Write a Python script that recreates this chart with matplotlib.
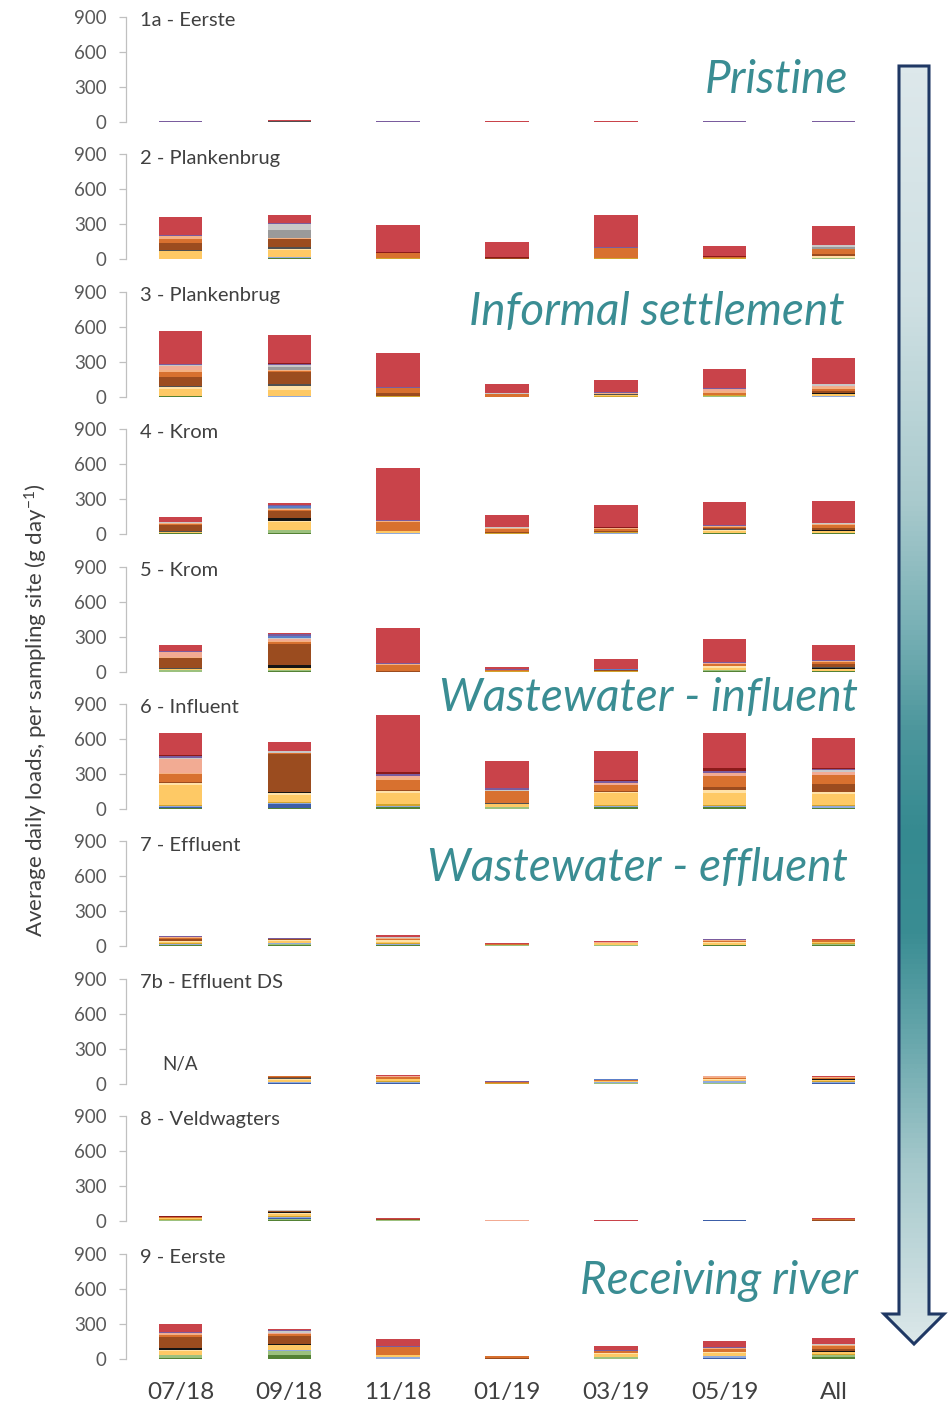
import numpy as np
import matplotlib
matplotlib.use("Agg")
import matplotlib.pyplot as plt
from matplotlib.patches import Polygon
from matplotlib.colors import LinearSegmentedColormap

plt.rcParams["font.family"] = ["Lato", "DejaVu Sans"]
plt.rcParams["mathtext.fontset"] = "custom"
plt.rcParams["mathtext.rm"] = "Lato"
plt.rcParams["mathtext.it"] = "Lato:italic"

nan = np.nan

# ---------------------------------------------------------------- categories
months = ["07/18", "09/18", "11/18", "01/19", "03/19", "05/19", "All"]
y_ticks = [0, 300, 600, 900]

# stacking order, bottom to top
components = ["green", "lightgreen", "blue", "lightblue", "gold", "yellow",
              "paleyellow", "black", "darkgray", "brown", "orange",
              "lightorange", "salmon", "gray", "lightgray", "cornflower",
              "purple", "darkred", "red"]

component_colors = {
    "green": "#548235", "lightgreen": "#9cc17e", "blue": "#3c5ea8",
    "lightblue": "#8faadc", "gold": "#d2a42c", "yellow": "#fec965",
    "paleyellow": "#ffe2a8", "black": "#151515", "darkgray": "#505050",
    "brown": "#9b4c1f", "orange": "#d8712f", "lightorange": "#f4b183",
    "salmon": "#f2ab93", "gray": "#9a9a9a", "lightgray": "#c8c8c8",
    "cornflower": "#5b7fc8", "purple": "#7a5c9e", "darkred": "#8b1a1a",
    "red": "#c9434a",
}

# ------------------------------------------------- daily loads (g/day) per site
site_1a = {
    "red":      [3, 3, 4, 2, 3, 4, 3],
    "purple":   [5, 5, 3, 2, 2, 3, 5],
    "darkgray": [3, 2, 2, 2, 2, 2, 2],
    "blue":     [0, 3, 0, 0, 0, 0, 0],
}

site_2 = {
    "red":         [152, 69, 231, 125, 274, 92, 165],
    "darkred":     [0, 0, 8, 8, 6, 8, 0],
    "purple":      [9, 9, 0, 0, 8, 0, 0],
    "lightgray":   [0, 50, 0, 0, 0, 0, 15],
    "gray":        [0, 69, 0, 0, 0, 0, 20],
    "lightorange": [20, 8, 0, 0, 0, 0, 0],
    "orange":      [40, 0, 43, 0, 86, 10, 43],
    "brown":       [60, 69, 0, 15, 0, 0, 17],
    "darkgray":    [8, 15, 0, 0, 0, 0, 0],
    "paleyellow":  [0, 15, 0, 0, 0, 0, 17],
    "yellow":      [65, 55, 0, 0, 0, 0, 0],
    "gold":        [6, 0, 9, 0, 8, 8, 0],
    "lightblue":   [0, 8, 0, 0, 0, 0, 0],
    "lightgreen":  [0, 0, 0, 0, 0, 0, 8],
    "green":       [0, 15, 0, 0, 0, 0, 0],
}

site_3 = {
    "red":         [285, 234, 291, 77, 103, 164, 223],
    "darkred":     [0, 17, 0, 0, 0, 0, 0],
    "purple":      [8, 8, 6, 0, 8, 8, 0],
    "lightgray":   [8, 17, 0, 6, 0, 0, 17],
    "gray":        [0, 25, 0, 0, 0, 0, 0],
    "salmon":      [35, 0, 0, 0, 0, 17, 8],
    "lightorange": [17, 8, 0, 0, 8, 17, 17],
    "orange":      [43, 8, 43, 26, 0, 17, 17],
    "brown":       [77, 103, 26, 0, 0, 0, 17],
    "darkgray":    [8, 15, 0, 0, 8, 0, 0],
    "black":       [0, 0, 0, 0, 0, 0, 8],
    "paleyellow":  [17, 35, 0, 0, 0, 0, 0],
    "yellow":      [55, 50, 0, 0, 8, 0, 17],
    "gold":        [0, 0, 8, 0, 8, 8, 0],
    "lightblue":   [0, 8, 0, 0, 0, 0, 8],
    "lightgreen":  [0, 0, 0, 0, 0, 9, 0],
    "green":       [10, 0, 0, 0, 0, 0, 0],
}

site_4 = {
    "red":         [43, 15, 448, 105, 186, 190, 194],
    "darkred":     [0, 0, 0, 0, 8, 0, 0],
    "purple":      [0, 8, 8, 0, 0, 8, 0],
    "cornflower":  [0, 17, 0, 0, 0, 0, 0],
    "lightgray":   [8, 0, 0, 8, 0, 0, 8],
    "gray":        [0, 10, 0, 0, 0, 0, 0],
    "salmon":      [0, 0, 0, 0, 8, 0, 0],
    "lightorange": [8, 8, 8, 8, 8, 8, 8],
    "orange":      [8, 10, 77, 25, 17, 17, 26],
    "brown":       [55, 60, 0, 8, 8, 8, 17],
    "darkgray":    [8, 0, 0, 4, 0, 8, 0],
    "black":       [0, 26, 0, 0, 0, 0, 8],
    "paleyellow":  [0, 10, 0, 0, 0, 8, 0],
    "yellow":      [8, 69, 17, 0, 0, 17, 17],
    "gold":        [0, 0, 0, 8, 8, 0, 0],
    "lightblue":   [0, 0, 8, 0, 8, 0, 0],
    "lightgreen":  [0, 25, 0, 0, 0, 0, 0],
    "green":       [8, 8, 0, 0, 0, 8, 8],
}

site_5 = {
    "red":         [51, 8, 302, 17, 87, 195, 130],
    "purple":      [8, 17, 8, 8, 0, 8, 8],
    "cornflower":  [0, 17, 0, 0, 8, 0, 0],
    "lightgray":   [8, 10, 0, 0, 0, 0, 0],
    "salmon":      [43, 15, 0, 0, 0, 8, 0],
    "lightorange": [8, 8, 8, 0, 0, 8, 8],
    "orange":      [0, 15, 51, 8, 0, 17, 17],
    "brown":       [80, 180, 8, 0, 8, 0, 26],
    "darkgray":    [8, 0, 0, 0, 0, 0, 9],
    "black":       [0, 26, 0, 0, 0, 0, 8],
    "paleyellow":  [0, 0, 0, 0, 0, 10, 0],
    "yellow":      [8, 17, 0, 0, 0, 18, 17],
    "gold":        [0, 0, 0, 7, 8, 0, 0],
    "lightgreen":  [17, 8, 0, 0, 0, 8, 0],
    "green":       [0, 8, 0, 0, 0, 8, 8],
}

site_6 = {
    "red":         [190, 76, 488, 235, 255, 303, 259],
    "darkred":     [8, 0, 17, 0, 8, 26, 8],
    "purple":      [17, 8, 17, 17, 17, 17, 8],
    "lightgray":   [8, 9, 0, 8, 0, 0, 17],
    "salmon":      [120, 0, 17, 0, 17, 26, 26],
    "lightorange": [8, 8, 17, 0, 0, 0, 0],
    "orange":      [69, 8, 86, 103, 51, 94, 77],
    "brown":       [8, 320, 8, 0, 8, 26, 69],
    "darkgray":    [8, 0, 0, 8, 0, 0, 0],
    "black":       [0, 13, 0, 0, 0, 0, 0],
    "paleyellow":  [17, 17, 17, 0, 8, 26, 17],
    "yellow":      [170, 60, 94, 26, 103, 103, 94],
    "gold":        [8, 8, 17, 0, 8, 8, 8],
    "lightblue":   [8, 8, 8, 0, 8, 8, 17],
    "blue":        [8, 34, 0, 0, 0, 0, 0],
    "lightgreen":  [0, 0, 0, 17, 0, 0, 0],
    "green":       [8, 8, 17, 0, 17, 17, 8],
}

site_7 = {
    "red":         [0, 0, 15, 8, 5, 0, 10],
    "darkred":     [0, 0, 0, 0, 0, 0, 4],
    "purple":      [8, 8, 0, 0, 0, 8, 0],
    "lightgray":   [0, 0, 8, 0, 0, 0, 0],
    "salmon":      [0, 0, 0, 0, 8, 0, 0],
    "lightorange": [8, 0, 8, 0, 0, 8, 0],
    "orange":      [8, 0, 15, 6, 0, 8, 10],
    "brown":       [15, 8, 0, 0, 0, 0, 0],
    "darkgray":    [0, 0, 0, 4, 4, 0, 0],
    "black":       [0, 0, 0, 0, 0, 0, 4],
    "paleyellow":  [8, 8, 10, 0, 0, 8, 0],
    "yellow":      [15, 15, 15, 0, 10, 12, 12],
    "gold":        [8, 5, 8, 0, 6, 0, 8],
    "lightblue":   [8, 7, 8, 0, 0, 0, 0],
    "lightgreen":  [0, 8, 0, 8, 10, 8, 8],
    "green":       [10, 10, 10, 0, 0, 8, 10],
}

# no sample downstream of the effluent in 07/18
site_7b = {
    "red":         [nan, 5, 8, 0, 5, 0, 8],
    "purple":      [nan, 0, 0, 10, 0, 0, 0],
    "cornflower":  [nan, 0, 0, 0, 8, 0, 0],
    "salmon":      [nan, 0, 8, 0, 0, 10, 0],
    "lightorange": [nan, 0, 0, 0, 0, 8, 6],
    "orange":      [nan, 8, 20, 8, 8, 10, 10],
    "brown":       [nan, 10, 0, 0, 0, 0, 0],
    "darkgray":    [nan, 5, 0, 0, 0, 0, 0],
    "black":       [nan, 0, 0, 0, 0, 0, 4],
    "paleyellow":  [nan, 8, 0, 0, 0, 8, 0],
    "yellow":      [nan, 15, 15, 0, 10, 15, 12],
    "gold":        [nan, 0, 8, 8, 0, 0, 5],
    "lightblue":   [nan, 8, 8, 0, 6, 10, 8],
    "blue":        [nan, 10, 10, 0, 0, 0, 10],
    "lightgreen":  [nan, 0, 0, 0, 6, 10, 0],
}

site_8 = {
    "red":         [0, 0, 5, 0, 8, 0, 8],
    "darkred":     [5, 0, 0, 0, 0, 0, 0],
    "purple":      [0, 0, 0, 0, 0, 6, 0],
    "lightgray":   [0, 10, 0, 0, 0, 0, 0],
    "salmon":      [0, 0, 0, 5, 0, 0, 0],
    "orange":      [8, 0, 8, 0, 4, 0, 5],
    "brown":       [5, 8, 8, 0, 0, 0, 8],
    "black":       [0, 5, 0, 0, 0, 0, 0],
    "paleyellow":  [0, 12, 0, 0, 0, 0, 0],
    "yellow":      [8, 15, 0, 0, 0, 0, 0],
    "gold":        [8, 8, 0, 5, 0, 0, 0],
    "lightblue":   [0, 8, 0, 0, 0, 0, 0],
    "blue":        [0, 10, 0, 0, 0, 8, 0],
    "lightgreen":  [9, 8, 7, 0, 0, 0, 5],
    "green":       [0, 10, 0, 0, 0, 0, 0],
}

site_9 = {
    "red":         [71, 8, 60, 6, 34, 51, 48],
    "purple":      [8, 8, 8, 0, 8, 8, 0],
    "lightgray":   [0, 17, 0, 0, 0, 0, 8],
    "salmon":      [8, 8, 0, 0, 0, 0, 0],
    "lightorange": [8, 0, 0, 0, 0, 8, 8],
    "orange":      [17, 17, 69, 12, 17, 26, 26],
    "brown":       [100, 69, 0, 8, 0, 0, 17],
    "black":       [17, 8, 0, 0, 0, 0, 8],
    "paleyellow":  [8, 0, 0, 0, 8, 8, 0],
    "yellow":      [30, 43, 17, 0, 26, 26, 17],
    "gold":        [0, 0, 0, 0, 0, 0, 8],
    "lightblue":   [0, 8, 17, 0, 0, 17, 0],
    "blue":        [0, 0, 0, 0, 0, 8, 0],
    "lightgreen":  [25, 34, 0, 0, 17, 0, 17],
    "green":       [8, 34, 0, 0, 0, 0, 17],
}

site_titles = ["1a - Eerste", "2 - Plankenbrug", "3 - Plankenbrug", "4 - Krom",
               "5 - Krom", "6 - Influent", "7 - Effluent", "7b - Effluent DS",
               "8 - Veldwagters", "9 - Eerste"]
site_data = [site_1a, site_2, site_3, site_4, site_5, site_6, site_7,
             site_7b, site_8, site_9]

zone_labels = [("Pristine", 848, 93), ("Informal settlement", 845, 325),
               ("Wastewater - influent", 858, 711),
               ("Wastewater - effluent", 848, 881),
               ("Receiving river", 858, 1294)]

# ---------------------------------------------------------------- layout (px)
W, H = 948, 1404
AX_LEFT, AX_RIGHT = 126, 888
FIRST_ZERO, PITCH, PANEL_H = 122, 137.4, 105
TEXT = "#404040"
TEAL = "#3a8d93"

fig = plt.figure(figsize=(W / 100, H / 100), dpi=100)
x = np.arange(len(months))

for i, (title, data) in enumerate(zip(site_titles, site_data)):
    y_zero = FIRST_ZERO + i * PITCH
    ax = fig.add_axes([AX_LEFT / W, 1 - y_zero / H,
                       (AX_RIGHT - AX_LEFT) / W, PANEL_H / H])
    ax.patch.set_alpha(0)
    bottom = np.zeros(len(months))
    for name in components:
        if name not in data:
            continue
        vals = np.nan_to_num(np.asarray(data[name], dtype=float))
        ax.bar(x, vals, width=0.4, bottom=bottom,
               color=component_colors[name], linewidth=0, clip_on=False)
        bottom += vals

    ax.set_xlim(-0.5, 6.5)
    ax.set_ylim(0, 900)
    ax.set_yticks(y_ticks)
    for side in ("top", "right", "bottom"):
        ax.spines[side].set_visible(False)
    ax.spines["left"].set_color("#c0c0c0")
    ax.spines["left"].set_linewidth(0.9)
    ax.tick_params(axis="y", length=5, width=0.9, color="#c0c0c0",
                   labelsize=13.5, labelcolor="#595959", pad=9)
    if i == len(site_titles) - 1:
        ax.set_xticks(x, months)
        ax.tick_params(axis="x", length=0, labelsize=17.5,
                       labelcolor=TEXT, pad=17)
    else:
        ax.set_xticks([])
    ax.text(14 / (AX_RIGHT - AX_LEFT), 0.965, title, transform=ax.transAxes,
            fontsize=14.5, color=TEXT, va="center", ha="left")
    red = np.asarray(data["red"], dtype=float)
    for miss in np.where(np.isnan(red))[0]:
        ax.text(miss, 165, "N/A", ha="center", va="center",
                fontsize=13.5, color=TEXT)

fig.text(36 / W, 1 - 710 / H,
         "Average daily loads, per sampling site (g day$^{-1}$)",
         rotation=90, ha="center", va="center", fontsize=16, color=TEXT)

# overlay in pixel coordinates for the zone labels and the flow arrow
ov = fig.add_axes([0, 0, 1, 1])
ov.set_xlim(0, W)
ov.set_ylim(H, 0)
ov.axis("off")
ov.patch.set_alpha(0)

for label, xr, yb in zone_labels:
    ov.text(xr, yb, label, ha="right", va="baseline", fontsize=33,
            style="italic", color=TEAL)

arrow_pts = [(899, 66), (929, 66), (929, 1314), (944, 1314), (914, 1344),
             (884, 1314), (899, 1314)]
arrow = Polygon(arrow_pts, closed=True, facecolor="none",
                edgecolor="#1f3864", linewidth=2.2, joinstyle="miter")
ov.add_patch(arrow)
cmap = LinearSegmentedColormap.from_list("flow", [
    (0.00, "#dde8eb"), (0.18, "#cfe0e3"), (0.34, "#a9cacd"),
    (0.44, "#78b0b5"), (0.52, "#4c969c"), (0.60, "#358a90"),
    (0.68, "#3a8d93"), (0.76, "#66a6ab"), (0.86, "#a4c8cb"),
    (1.00, "#dbe7e9")])
grad = np.linspace(0, 1, 400).reshape(-1, 1)
img = ov.imshow(grad, cmap=cmap, extent=(884, 944, 1344, 66),
                aspect="auto", interpolation="bilinear", zorder=1)
img.set_clip_path(arrow)
arrow.set_zorder(2)
ov.set_xlim(0, W)
ov.set_ylim(H, 0)

fig.savefig("out.png", dpi=100)
